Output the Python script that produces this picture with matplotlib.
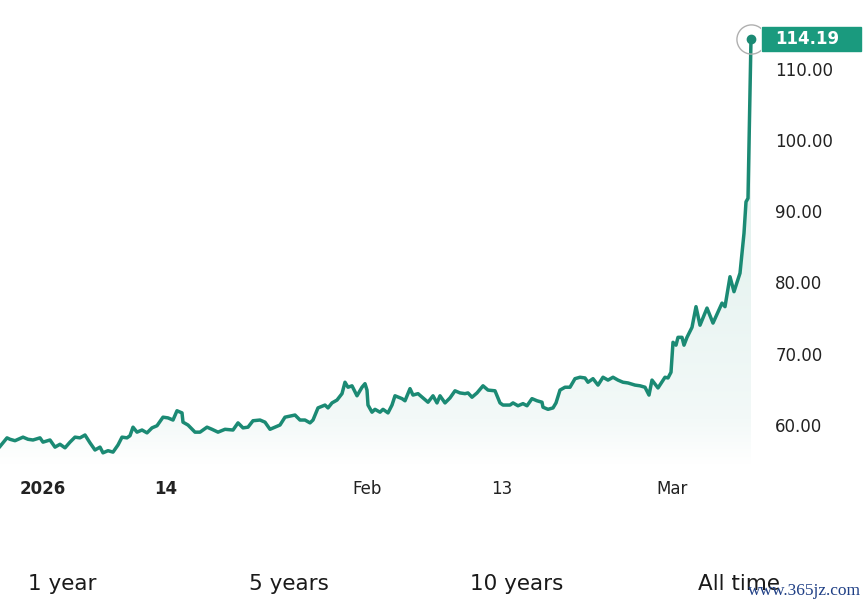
import numpy as np
import matplotlib
matplotlib.use("Agg")
import matplotlib.pyplot as plt
from matplotlib.colors import LinearSegmentedColormap
from matplotlib.patches import Rectangle
import matplotlib.transforms as mtransforms

# time axis (arbitrary session units) and price
t = [0.0, 0.7, 1.0, 1.5, 2.3, 2.8, 3.3, 4.0, 4.3, 5.0, 5.5, 6.0, 6.5, 7.0, 7.5,
     8.0, 8.5, 9.0, 9.5, 10.0, 10.3, 10.8, 11.3, 11.8, 12.2, 12.7, 13.0, 13.3,
     13.7, 14.2, 14.7, 15.2, 15.7, 16.3, 16.8, 17.3, 17.7, 18.2, 18.3, 18.8,
     19.5, 20.0, 20.7, 21.2, 21.8, 22.5, 23.3, 23.8, 24.3, 24.8, 25.3, 26.0,
     26.5, 27.0, 27.5, 28.0, 28.5, 29.2, 29.5, 30.0, 30.5, 31.0, 31.3, 31.8,
     32.5, 32.8, 33.2, 33.7, 34.2, 34.5, 34.8, 35.2, 35.7, 36.2, 36.5, 36.7,
     36.8, 37.2, 37.5, 38.0, 38.3, 38.8, 39.2, 39.5, 40.2, 40.5, 41.0, 41.3,
     41.8, 42.3, 42.8, 43.3, 43.7, 44.0, 44.5, 45.0, 45.5, 46.0, 46.5, 46.8,
     47.2, 47.7, 48.3, 48.8, 49.5, 50.0, 50.3, 51.0, 51.3, 51.8, 52.3, 52.7,
     53.2, 53.7, 54.2, 54.3, 54.8, 55.3, 55.6, 56.0, 56.5, 57.0, 57.5, 58.0,
     58.5, 58.8, 59.3, 59.8, 60.3, 60.8, 61.3, 61.8, 62.3, 62.8, 63.5, 64.0,
     64.5, 64.9, 65.2, 65.8, 66.5, 66.8, 67.1, 67.3, 67.6, 67.8, 68.2, 68.4,
     68.7, 69.2, 69.6, 70.0, 70.7, 71.3, 72.2, 72.5, 73.0, 73.4, 74.0, 74.4,
     74.6, 74.8, 75.1]
price = [57.0, 58.2, 58.0, 57.8, 58.3, 58.0, 57.9, 58.2, 57.6, 57.9, 56.9, 57.3,
         56.8, 57.6, 58.3, 58.2, 58.6, 57.5, 56.5, 56.9, 56.1, 56.4, 56.2, 57.2,
         58.3, 58.2, 58.5, 59.7, 59.0, 59.3, 58.9, 59.6, 59.9, 61.1, 61.0, 60.7,
         62.0, 61.7, 60.4, 60.0, 59.0, 59.0, 59.7, 59.4, 59.0, 59.4, 59.3, 60.3,
         59.6, 59.7, 60.6, 60.7, 60.4, 59.4, 59.7, 60.0, 61.1, 61.3, 61.4, 60.7,
         60.7, 60.3, 60.7, 62.4, 62.8, 62.4, 63.1, 63.5, 64.4, 66.0, 65.3, 65.5,
         64.1, 65.3, 65.8, 64.9, 62.8, 61.8, 62.2, 61.8, 62.2, 61.7, 62.8, 64.1,
         63.7, 63.4, 65.1, 64.2, 64.4, 63.8, 63.2, 64.1, 63.1, 64.1, 63.1, 63.8,
         64.8, 64.5, 64.4, 64.5, 63.9, 64.5, 65.5, 64.9, 64.8, 63.1, 62.8, 62.8,
         63.1, 62.7, 63.0, 62.7, 63.7, 63.4, 63.2, 62.5, 62.2, 62.4, 63.1, 64.9,
         65.3, 65.3, 66.5, 66.7, 66.6, 66.0, 66.5, 65.6, 66.7, 66.3, 66.7, 66.3,
         66.0, 65.9, 65.6, 65.5, 65.3, 64.2, 66.3, 65.2, 66.7, 66.6, 67.4, 71.6,
         71.2, 72.3, 72.3, 71.2, 72.3, 73.7, 76.6, 74.0, 76.4, 74.3, 77.1, 76.6,
         80.8, 78.7, 81.3, 86.9, 91.3, 91.8, 114.19]

x_tick_pos = [4.3, 16.6, 36.7, 50.2, 67.2]
x_tick_labels = ["2026", "14", "Feb", "13", "Mar"]
y_ticks = [60, 70, 80, 90, 100, 110]
ranges = ["1 year", "5 years", "10 years", "All time"]

line_color = "#1b8a74"
box_color = "#1a9a7e"

fig = plt.figure(figsize=(8.68, 6.07), dpi=100)
ax = fig.add_axes([0.0, 0.2339, 760 / 868, 0.7331])
ax.set_xlim(0, 76)
ax.set_ylim(54.39, 116.80)

# gradient fill under the line, clipped to the area polygon
cmap = LinearSegmentedColormap.from_list(
    "fade", [(0.0, "#ffffff"), (0.10, "#f3f9f8"), (1.0, "#d6ebe6")])
grad = np.linspace(0, 1, 256).reshape(-1, 1)
img = ax.imshow(grad, cmap=cmap, origin="lower", aspect="auto",
                extent=[0, 76, 54.39, 116.80], zorder=1)
area = ax.fill_between(t, price, 54.39, color="none", lw=0)
img.set_clip_path(area.get_paths()[0], transform=ax.transData)

ax.plot(t, price, color=line_color, lw=2.5, zorder=3, solid_joinstyle="round")
ax.plot(t[-1], price[-1], "o", color=line_color, ms=6, zorder=4)
ax.plot(t[-1], price[-1], "o", mfc="none", mec="#b0b0b0", mew=1.0, ms=21, zorder=4)

for s in ax.spines.values():
    s.set_visible(False)

ax.yaxis.tick_right()
ax.set_yticks(y_ticks)
ax.set_yticklabels(["%.2f" % v for v in y_ticks])
ax.tick_params(axis="y", length=0, pad=11, labelsize=12, labelcolor="#222222")
ax.set_xticks(x_tick_pos)
ax.set_xticklabels(x_tick_labels)
ax.tick_params(axis="x", length=0, pad=11, labelsize=12, labelcolor="#222222")
for lbl in ax.get_xticklabels()[:2]:
    lbl.set_fontweight("bold")

# last price label on the right axis
trans = mtransforms.blended_transform_factory(ax.transAxes, ax.transData)
ax.add_patch(Rectangle((1.002, price[-1] - 1.7), 0.131, 3.4, transform=trans,
                       color=box_color, clip_on=False, zorder=5))
ax.text(1.02, price[-1], "%.2f" % price[-1], transform=trans, color="white",
        fontsize=12, fontweight="bold", va="center", ha="left", zorder=6)

# range selector texts
for x0, lab in zip([28, 249, 470, 698], ranges):
    fig.text(x0 / 868, 1 - 584 / 607, lab, fontsize=15.5, color="#1a1a1a",
             va="center", ha="left")

fig.text(748 / 868, 1 - 591 / 607, "www.365jz.com", fontsize=12.5,
         family="Liberation Serif", color="#1f3f85", va="center", ha="left")

fig.savefig("out.png", dpi=100)
